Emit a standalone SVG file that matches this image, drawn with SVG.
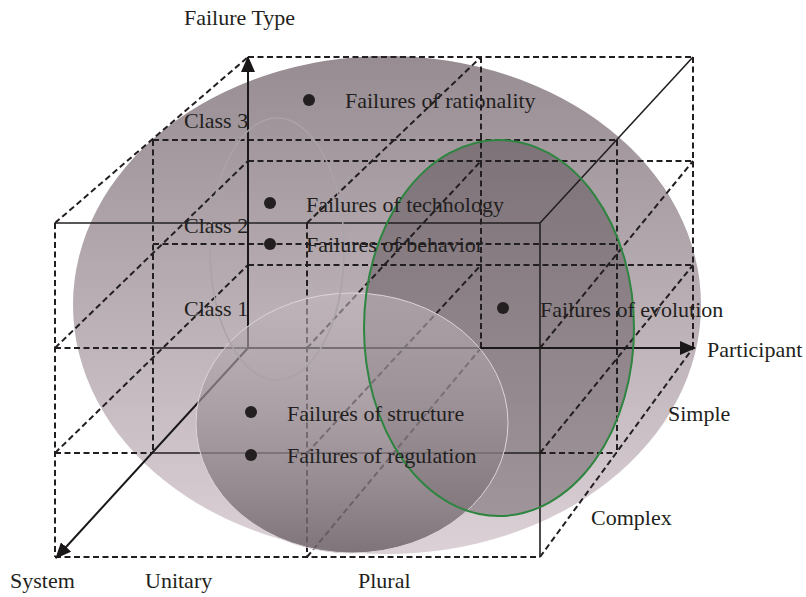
<svg xmlns="http://www.w3.org/2000/svg" width="806" height="597" viewBox="0 0 806 597">
<defs>
<linearGradient id="gBig" x1="0" y1="0" x2="0" y2="1">
<stop offset="0" stop-color="#968c92"/>
<stop offset="1" stop-color="#dbd1d7"/>
</linearGradient>
<linearGradient id="gLow" x1="0" y1="0" x2="0" y2="1">
<stop offset="0" stop-color="#c2b8be" stop-opacity="0.55"/>
<stop offset="1" stop-color="#6e6369" stop-opacity="0.85"/>
</linearGradient>
<marker id="arr" markerUnits="userSpaceOnUse" markerWidth="16" markerHeight="14" refX="15" refY="7" orient="auto">
<path d="M0,0 L16,7 L0,14 z" fill="#1a1718"/>
</marker>
</defs>
<style>
.dash{stroke:#231f20;stroke-width:2;stroke-dasharray:6,3.5;fill:none}
.solid{stroke:#231f20;stroke-width:1.6;fill:none}
.axis{stroke:#1a1718;stroke-width:2;fill:none}
.lbl{font-family:"Liberation Serif","Times New Roman",serif;font-size:22px;fill:#231f20}
.dot{fill:#231f20}
.green{fill:none;stroke:#2e8540;stroke-width:2}
</style>

<g id="regions">
<ellipse id="big" cx="387" cy="305" rx="314" ry="249" fill="url(#gBig)"/>
<ellipse id="evolution-fill" cx="499" cy="328" rx="135" ry="188" fill="#3a2f35" fill-opacity="0.35"/>
</g>

<g id="grid">
<line class="dash" x1="248" y1="57" x2="693" y2="57"/>
<line class="dash" x1="153" y1="140" x2="617" y2="140"/>
<line class="dash" x1="248" y1="161" x2="693" y2="161"/>
<line class="dash" x1="153" y1="244" x2="617" y2="244"/>
<line class="dash" x1="248" y1="265" x2="693" y2="265"/>
<line class="dash" x1="55" y1="348" x2="153" y2="348"/>
<line class="dash" x1="55" y1="453" x2="153" y2="453"/>
<line class="dash" x1="540" y1="453" x2="617" y2="453"/>
<line class="dash" x1="55" y1="557" x2="540" y2="557"/>
<line class="dash" x1="55" y1="223" x2="55" y2="557"/>
<line class="dash" x1="153" y1="140" x2="153" y2="453"/>
<line class="dash" x1="307" y1="223" x2="307" y2="557"/>
<line class="dash" x1="481" y1="57" x2="481" y2="348"/>
<line class="dash" x1="617" y1="140" x2="617" y2="453"/>
<line class="dash" x1="693" y1="57" x2="693" y2="348"/>
<line class="dash" x1="55" y1="223" x2="248" y2="57"/>
<line class="dash" x1="55" y1="348" x2="248" y2="161"/>
<line class="dash" x1="55" y1="453" x2="248" y2="265"/>
<line class="dash" x1="307" y1="223" x2="481" y2="57"/>
<line class="dash" x1="307" y1="348" x2="481" y2="161"/>
<line class="dash" x1="307" y1="453" x2="481" y2="265"/>
<line class="dash" x1="307" y1="557" x2="481" y2="348"/>
<line class="dash" x1="540" y1="348" x2="693" y2="161"/>
<line class="dash" x1="540" y1="453" x2="693" y2="265"/>
<line class="dash" x1="540" y1="557" x2="693" y2="348"/>
<line class="solid" x1="55" y1="223" x2="540" y2="223"/>
<line class="solid" x1="540" y1="223" x2="540" y2="557"/>
<line class="solid" x1="540" y1="223" x2="693" y2="57"/>
<line class="solid" x1="153" y1="348" x2="248" y2="348"/>
<line class="solid" x1="153" y1="453" x2="540" y2="453"/>
</g>

<g id="axes">
<line class="axis" x1="248" y1="348" x2="248" y2="57" marker-end="url(#arr)"/>
<line class="axis" x1="248" y1="348" x2="695" y2="348" marker-end="url(#arr)"/>
<line class="axis" x1="248" y1="348" x2="56" y2="558" marker-end="url(#arr)"/>
</g>

<g id="structure-region">
<ellipse cx="352" cy="423" rx="156" ry="130" fill="url(#gLow)" stroke="#ddd5db" stroke-width="1"/>
</g>
<g id="evolution-region">
<ellipse class="green" cx="499" cy="328" rx="135" ry="188"/>
</g>
<g id="technology-region">
<ellipse cx="277" cy="249" rx="67" ry="131" fill="none" stroke="#aaa3a8" stroke-width="1.5"/>
</g>

<g id="n-rationality"><circle class="dot" cx="309" cy="100" r="6"/><text class="lbl" x="345" y="108">Failures of rationality</text></g>
<g id="n-technology"><circle class="dot" cx="270" cy="203" r="6"/><text class="lbl" x="306" y="212">Failures of technology</text></g>
<g id="n-behavior"><circle class="dot" cx="270" cy="244" r="6"/><text class="lbl" x="306" y="252">Failures of behavior</text></g>
<g id="n-evolution"><circle class="dot" cx="503" cy="308" r="6"/><text class="lbl" x="540" y="317">Failures of evolution</text></g>
<g id="n-structure"><circle class="dot" cx="251" cy="412" r="6"/><text class="lbl" x="287" y="421">Failures of structure</text></g>
<g id="n-regulation"><circle class="dot" cx="251" cy="455" r="6"/><text class="lbl" x="287" y="463">Failures of regulation</text></g>

<g id="labels">
<text class="lbl" x="184" y="25">Failure Type</text>
<text class="lbl" x="184" y="128">Class 3</text>
<text class="lbl" x="184" y="233">Class 2</text>
<text class="lbl" x="184" y="316">Class 1</text>
<text class="lbl" x="707" y="357">Participant</text>
<text class="lbl" x="668" y="421">Simple</text>
<text class="lbl" x="591" y="525">Complex</text>
<text class="lbl" x="10" y="588">System</text>
<text class="lbl" x="145" y="588">Unitary</text>
<text class="lbl" x="358" y="588">Plural</text>
</g>
</svg>
